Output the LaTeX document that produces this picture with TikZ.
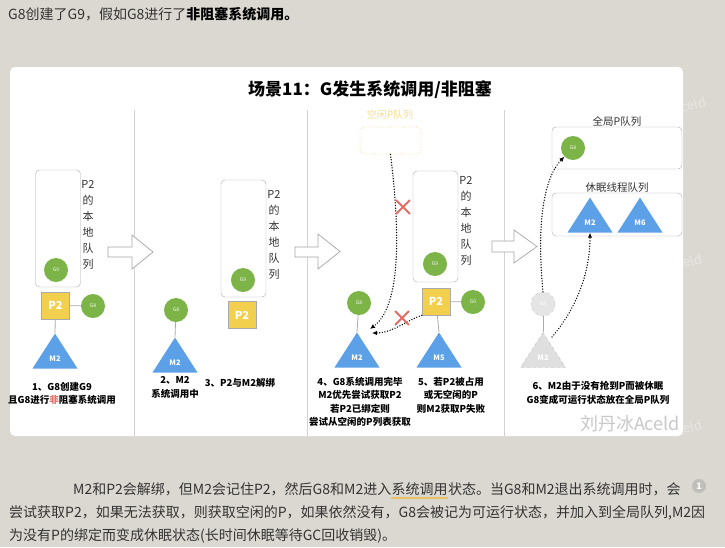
\documentclass[tikz,border=0pt]{standalone}
\usepackage{fontspec}
\setmainfont{Noto Sans CJK SC}
\usetikzlibrary{arrows.meta,shapes.geometric,shapes.misc,positioning}
\definecolor{pagebg}{RGB}{219,216,210}
\definecolor{bodytext}{RGB}{51,51,51}
\definecolor{ggreen}{RGB}{124,180,72}
\definecolor{pyellow}{RGB}{242,208,77}
\definecolor{mblue}{RGB}{92,160,232}
\definecolor{linegray}{RGB}{170,170,170}
\definecolor{sepgray}{RGB}{210,210,210}
\definecolor{arrowgray}{RGB}{165,165,165}
\definecolor{xred}{RGB}{228,108,98}
\definecolor{idleyellow}{RGB}{248,222,140}
\definecolor{wmgray}{RGB}{200,200,200}
\definecolor{wmfaint}{RGB}{232,230,226}
\definecolor{ulorange}{RGB}{232,192,100}
\definecolor{iconcol}{RGB}{192,190,186}
\tikzset{
  gnode/.style={circle,fill=ggreen,minimum size=24pt,inner sep=0pt,text=white,font=\fontsize{5}{5}\selectfont},
  pbox/.style={rectangle,fill=pyellow,draw=linegray,minimum width=28pt,minimum height=27pt,inner sep=0pt,text=white,font=\fontsize{11}{11}\selectfont\bfseries},
  qbox/.style={draw=linegray,rounded corners=4pt,minimum width=45pt,inner sep=0pt},
  qlabel/.style={align=center,text=bodytext,font=\fontsize{11}{16}\selectfont},
  mtri/.style={isosceles triangle,isosceles triangle stretches,shape border rotate=90,minimum width=45pt,minimum height=35pt,inner sep=0pt,fill=mblue,text=white,font=\fontsize{7.5}{8}\selectfont\bfseries},
  capt/.style={align=center,text=black,font=\fontsize{9.5}{13.5}\selectfont\bfseries},
  link/.style={draw=linegray,line width=0.8pt},
  dotarrow/.style={dash pattern=on 0.1pt off 2.6pt,line cap=round,line width=1.4pt,-{Latex[length=5pt,width=4.5pt]}},
  crossmark/.style={cross out,draw=xred,line width=1.8pt,minimum size=12pt,inner sep=0pt},
  hollowarrow/.style={draw=arrowgray,fill=white,line width=0.7pt,line join=miter},
  sepline/.style={draw=sepgray,line width=0.8pt},
  para/.style={inner sep=0pt,text=bodytext,font=\fontsize{14}{14}\selectfont},
  wmark/.style={inner sep=0pt,text=wmfaint,font=\fontsize{13}{13}\selectfont,rotate=15}
}

\begin{document}
\begin{tikzpicture}[x=1pt,y=-1pt]
  \useasboundingbox (0,0) rectangle (725,547);
  \fill[pagebg] (0,0) rectangle (725,547);

  % faint watermark ends beside the panel
  \node[wmark,anchor=east] (wm1) at (706,101) {celd};
  \node[wmark,anchor=east] (wm2) at (702,258) {celd};
  \node[wmark,anchor=east] (wm3) at (702,424) {celd};

  \node[para,anchor=west] (intro) at (8,14) {G8创建了G9，假如G8进行了{\color{black}\bfseries 非阻塞系统调用。}};

  % white panel
  \fill[white,rounded corners=5pt] (10,67) rectangle (683,436);
  \node[font=\fontsize{17}{17}\selectfont\bfseries] (title) at (370,90) {场景11：G发生系统调用/非阻塞};
  \draw[sepline] (134,110) -- (134,436);
  \draw[sepline] (307,110) -- (307,436);
  \draw[sepline] (504,110) -- (504,436);

  % 1
  \node[qbox,minimum height=117pt] (q1) at (58,228.5) {};
  \node[qlabel] (q1t) at (88,225) {P2\\的\\本\\地\\队\\列};
  \node[gnode] (g9a) at (56,270) {G9};
  \node[pbox] (p2a) at (55.5,305.5) {P2};
  \node[gnode] (g8a) at (93,306) {G8};
  \node[mtri,anchor=apex] (m2a) at (55,333) {M2};
  \draw[link] (p2a) -- (g8a);
  \draw[link] (p2a) -- (m2a.apex);
  \node[capt] (c1) at (62,393.5) {1、G8创建G9\\且G8进行{\color{xred}非}阻塞系统调用};

  \draw[hollowarrow] (108,247) -- (132,247) -- (132,235) -- (153,252) -- (132,269) -- (132,257) -- (108,257) -- cycle;

  % 2
  \node[gnode] (g8b) at (176,310) {G8};
  \node[mtri,anchor=apex] (m2b) at (175,337) {M2};
  \draw[link] (g8b) -- (m2b.apex);
  \node[capt] (c2) at (175,387.5) {2、M2\\系统调用中};

  % 3
  \node[qbox,minimum height=117pt] (q3) at (243.5,238.5) {};
  \node[qlabel] (q3t) at (274,235) {P2\\的\\本\\地\\队\\列};
  \node[gnode] (g9c) at (243,280) {G9};
  \node[pbox] (p2c) at (242,315) {P2};
  \node[capt] (c3) at (240,383) {3、P2与M2解绑};

  \draw[hollowarrow] (295,247) -- (318,247) -- (318,234) -- (340,251.5) -- (318,269) -- (318,257) -- (295,257) -- cycle;

  % 4 and 5
  \node[text=idleyellow,font=\fontsize{10}{10}\selectfont] (idlet) at (390,115) {空闲P队列};
  \node[draw=idleyellow,dotted,line width=0.8pt,rounded corners=4pt,minimum width=61pt,minimum height=27pt] (idleq) at (390.5,140.5) {};
  \node[gnode] (g8d) at (359,303) {G8};
  \node[mtri,anchor=apex] (m2d) at (357,332) {M2};
  \draw[link] (g8d) -- (m2d.apex);

  \node[qbox,minimum height=111pt] (q5) at (435.5,226.5) {};
  \node[qlabel] (q5t) at (466,221) {P2\\的\\本\\地\\队\\列};
  \node[gnode] (g9e) at (435,264) {G9};
  \node[pbox] (p2e) at (436,301.5) {P2};
  \node[gnode] (g0e) at (473,302) {G0};
  \node[mtri,anchor=apex,fill=mblue] (m5e) at (439,332) {M5};
  \draw[link] (p2e) -- (g0e);
  \draw[link] (p2e) -- (m5e.apex);

  \coordinate (m2dr) at (370,329);
  \coordinate (m2dl) at (372,333);
  \draw[dotarrow] (idleq.south) .. controls (403,255) and (396,310) .. (m2dr);
  \draw[dotarrow] (p2e.south west) .. controls (408,320) and (392,333) .. (m2dl);
  \node[crossmark] (x1) at (403,207) {};
  \node[crossmark] (x2) at (402,318) {};

  \node[capt] (c4) at (360,402) {4、G8系统调用完毕\\M2优先尝试获取P2\\若P2已绑定则\\尝试从空闲的P列表获取};
  \node[capt] (c5) at (451,395) {5、若P2被占用\\或无空闲的P\\则M2获取P失败};

  \draw[hollowarrow] (492,241) -- (514,241) -- (514,230) -- (537,246.5) -- (514,263) -- (514,252) -- (492,252) -- cycle;

  % 6
  \node[text=bodytext,font=\fontsize{10.5}{10.5}\selectfont] (globt) at (617,121) {全局P队列};
  \node[qbox,minimum width=130pt,minimum height=42pt] (globq) at (617,148) {};
  \node[gnode] (g8f) at (573,148) {G8};
  \node[text=bodytext,font=\fontsize{10.5}{10.5}\selectfont] (sleept) at (617,188) {休眠线程队列};
  \node[qbox,minimum width=130pt,minimum height=43pt] (sleepq) at (617,214.5) {};
  \node[mtri,anchor=apex] (m2s) at (590,197) {M2};
  \node[mtri,anchor=apex] (m6s) at (640,197) {M6};

  \node[gnode,fill=gray!20,draw=gray!45,dashed,text=white] (g8g) at (543,304) {G8};
  \node[mtri,anchor=apex,fill=gray!25,draw=gray!50,dashed] (m2g) at (543,332) {M2};
  \draw[link] (g8g) -- (m2g.apex);
  \draw[dotarrow] (g8g.north) .. controls (537,230) and (542,180) .. (g8f.south west);
  \coordinate (m2gr) at (552,337);
  \draw[dotarrow] (m2gr) .. controls (575,310) and (590,275) .. (m2s.south);

  \node[capt] (c6) at (598,393) {6、M2由于没有抢到P而被休眠\\G8变成可运行状态放在全局P队列};
  \node[text=wmgray,font=\fontsize{18}{18}\selectfont] (wm) at (630,424) {刘丹冰Aceld};

  % text under the panel
  \node[para,anchor=base west] (l1a) at (73,494) {M2和P2会解绑，但M2会记住P2，然后G8和M2进入};
  \node[para,anchor=base west] (l1b) at (l1a.base east) {系统调用};
  \node[para,anchor=base west] (l1c) at (l1b.base east) {状态。当G8和M2退出系统调用时，会};
  \draw[ulorange,line width=2pt] ([yshift=-4pt]l1b.base west) -- ([yshift=-4pt]l1b.base east);
  \node[para,anchor=base west] (l2) at (9,517) {尝试获取P2，如果无法获取，则获取空闲的P，如果依然没有，G8会被记为可运行状态，并加入到全局队列,M2因};
  \node[para,anchor=base west] (l3) at (9,540) {为没有P的绑定而变成休眠状态(长时间休眠等待GC回收销毁)。};
  \node[circle,fill=iconcol,minimum size=14pt,inner sep=0pt,text=white,font=\fontsize{9}{9}\selectfont\bfseries] (note) at (699,486) {1};
\end{tikzpicture}
\end{document}
